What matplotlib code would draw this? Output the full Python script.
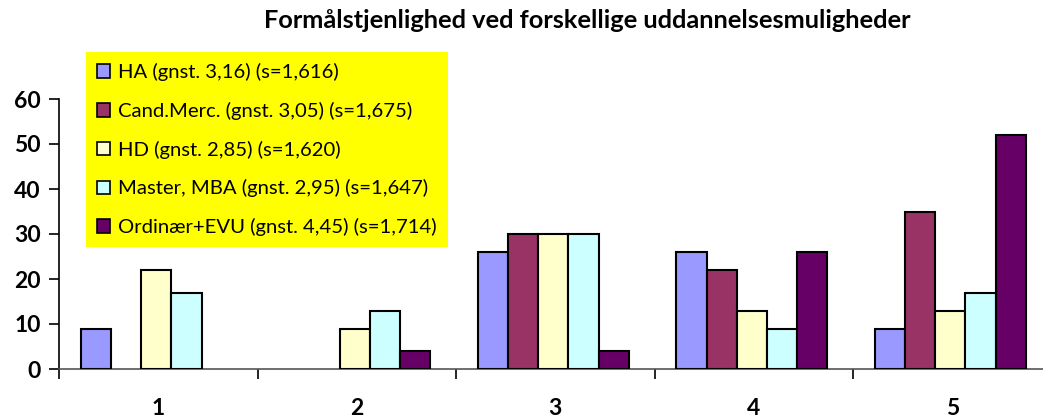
import matplotlib.pyplot as plt
import numpy as np

categories = ['1', '2', '3', '4', '5']
series_labels = ['HA (gnst. 3,16) (s=1,616)',
                 'Cand.Merc. (gnst. 3,05) (s=1,675)',
                 'HD (gnst. 2,85) (s=1,620)',
                 'Master, MBA (gnst. 2,95) (s=1,647)',
                 'Ordinær+EVU (gnst. 4,45) (s=1,714)']
ha = [9, 0, 26, 26, 9]
cand_merc = [0, 0, 30, 22, 35]
hd = [22, 9, 30, 13, 13]
master_mba = [17, 13, 30, 9, 17]
ordinaer_evu = [0, 4, 4, 26, 52]
colors = ['#9999FF', '#993366', '#FFFFCC', '#CCFFFF', '#660066']

plt.rcParams['font.family'] = ['Lato', 'DejaVu Sans']

fig = plt.figure(figsize=(10.43, 4.18), dpi=100)
# axes runs slightly past the right edge, like the cropped original
ax = fig.add_axes([59 / 1043, 49 / 418, 992.5 / 1043, 270 / 418])

x = np.arange(len(categories))
w = 0.152
all_series = [ha, cand_merc, hd, master_mba, ordinaer_evu]
for j, (vals, c, lab) in enumerate(zip(all_series, colors, series_labels)):
    bars = ax.bar(x + (j - 2) * w - 0.01, vals, width=w, color=c, edgecolor='black',
                  linewidth=1.5, label=lab, zorder=3)
    for b, v in zip(bars, vals):
        if v == 0:
            b.set_linewidth(0)  # empty bars leave no outline

ax.set_xlim(-0.5, 4.5)
ax.set_ylim(0, 60)
ax.set_yticks(range(0, 61, 10))
ax.tick_params(axis='y', direction='out', length=7, width=1.2, labelsize=16.5, pad=6)
for t in ax.get_yticklabels():
    t.set_fontweight('bold')

# category boundaries get ticks, centres get labels
ax.set_xticks(np.arange(-0.5, 5, 1))
ax.set_xticklabels([])
ax.set_xticks(x, minor=True)
ax.set_xticklabels(categories, minor=True, fontsize=16.5, fontweight='bold')
ax.tick_params(axis='x', which='major', direction='out', length=7, width=1.2)
ax.tick_params(axis='x', which='minor', length=0, pad=21)

ax.spines['top'].set_visible(False)
ax.spines['right'].set_visible(False)
ax.spines['left'].set_linewidth(1.2)
ax.spines['bottom'].set_linewidth(1.2)
ax.spines['bottom'].set_color('#555555')

fig.text(0.563, 0.952, 'Formålstjenlighed ved forskellige uddannelsesmuligheder',
         ha='center', va='center', fontsize=18.3, fontweight='bold')

leg = ax.legend(loc='upper left', bbox_to_anchor=(86 / 1043, 1 - 52 / 418),
                bbox_transform=fig.transFigure, borderaxespad=0, fontsize=14.6,
                facecolor='#FFFF00', edgecolor='none', fancybox=False, framealpha=1,
                handlelength=0.65, handleheight=0.65, handletextpad=0.4,
                labelspacing=1.02, borderpad=0.55)
leg.get_frame().set_linewidth(0)
for h in leg.legend_handles:
    h.set_linewidth(1.2)

fig.savefig('out.png', dpi=100)
